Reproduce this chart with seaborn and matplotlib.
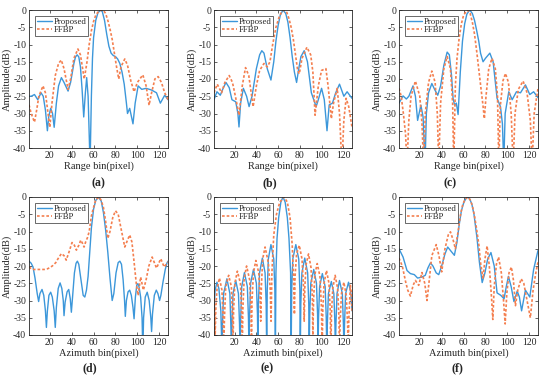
import numpy as np
import pandas as pd
import matplotlib
matplotlib.use('Agg')
import matplotlib.pyplot as plt
import seaborn as sb

# (a) range profile 1
a_x_prop = [1, 3, 6, 9, 12, 14, 16, 17.8, 19, 20.8, 22.5, 24, 26, 28, 30.6, 33, 36.7, 39, 42, 43.5, 45, 46.5, 48, 49.5, 51, 52.5, 53.7, 55, 56.8, 58, 59, 60, 62, 64, 66.5, 68, 70, 72, 74, 76, 78, 80, 82, 84, 86, 88, 90, 91, 93, 96, 98, 100.7, 104, 108, 113, 117.5, 121, 125, 128]
a_y_prop = [-25, -25, -24.5, -26, -24, -25, -29, -35, -31, -28.5, -30, -34, -27, -22, -19.6, -21, -23.5, -21, -15.5, -13.6, -13, -13.6, -16.5, -23, -31, -24, -19.6, -25, -45, -25, -14, -8, -3, -0.8, 0, -0.5, -3, -7, -10.5, -12.5, -13.2, -13.5, -14.2, -15.5, -18, -21.5, -27, -30, -28.5, -33, -27, -22, -23, -22.7, -23.2, -24, -27, -24.7, -26]
a_x_ffbp = [1, 3, 6, 8, 10, 13.8, 16, 18, 20, 22, 25, 28, 30.5, 33, 36.7, 39, 42, 45.7, 48, 51.5, 54, 56, 58, 60, 62, 65, 68.7, 71, 73, 75, 77, 79, 81, 83, 85, 88.5, 91, 94, 97, 100, 105, 108, 110.7, 113, 116, 119, 122, 125, 128]
a_y_ffbp = [-27.5, -30, -32.5, -29, -25, -22, -24, -29, -34, -27, -19, -15.5, -14.5, -17, -23, -20, -14, -11.3, -13, -20, -15, -10, -6, -3.3, -1.5, -0.2, 0, -1, -3, -5.5, -8.5, -12.5, -16.5, -20, -16.5, -14.2, -16, -20.5, -23.7, -21, -18.8, -22, -27.6, -24, -20, -19.3, -21, -24, -26]

# (b) range profile 2
b_x_prop = [1, 3.7, 6.8, 9, 12, 15, 17.5, 21, 23, 24, 25.5, 28, 31, 33.3, 36, 40, 43, 45, 47, 50, 53.4, 56, 58, 60, 62, 64.5, 67, 69, 71, 73, 75, 77, 79, 81, 84, 87, 90.6, 95, 97, 100, 102.5, 105, 107, 110, 113, 116.5, 120.5, 123.5, 128]
b_y_prop = [-26, -23.7, -24.7, -23, -21, -22.5, -26, -26.6, -30, -33.9, -27, -22.7, -25, -28, -25, -17, -13, -11.8, -12.5, -17, -20.3, -15, -9, -4.5, -1.5, 0, -1, -3.5, -8, -13.5, -18, -21, -17, -13.5, -11.8, -15, -24, -28, -26, -22.7, -26, -35, -27.5, -27, -24, -21.5, -25, -23.7, -25.6]
b_x_ffbp = [1, 4, 8, 11, 15, 18, 21, 24, 27, 30, 33, 37, 40, 43, 47, 50, 52.5, 55, 58, 61, 63, 65.6, 68, 70, 72, 74, 76, 78, 79.5, 82, 86.5, 90, 92, 94, 97, 100, 104, 106, 109, 111, 114.4, 116.5, 118.7, 120.5, 122.6, 125, 128]
b_y_ffbp = [-24, -21.5, -24, -21, -19, -21, -25.5, -30.5, -22, -16.7, -19, -28, -22, -17.5, -15.5, -16.5, -15, -10, -5, -2, -0.7, 0, -0.7, -2.5, -5, -8.5, -13, -17.5, -18.5, -14, -10.8, -13, -18, -30.5, -22, -17.5, -17, -22, -31.5, -27, -22.7, -30, -45, -32, -25.6, -28, -34]

# (c) range profile 3
c_x_prop = [1, 4.7, 7.7, 10, 13.8, 16, 18, 21, 23, 24.8, 26, 28, 31, 33.5, 36.4, 39, 42, 45, 47, 49, 50.4, 51.8, 53.4, 55, 57, 59, 61, 63, 65.6, 68, 70, 72, 73.9, 75.5, 77.8, 80, 84, 87, 90.6, 93.7, 95.5, 96.7, 98, 101.3, 104.4, 108.3, 112, 116.5, 120.5, 124, 128]
c_y_prop = [-27, -24.9, -25.8, -25, -22, -25, -32, -27.6, -31, -45, -30, -24, -21.3, -23, -24.7, -22, -16, -12.2, -13, -19, -25.6, -27.6, -27, -30.3, -18, -9, -4, -1.2, 0, -1, -3, -6, -9.1, -12.5, -15, -14, -12.5, -15, -25.6, -28, -33, -45, -30, -23.7, -26, -23.7, -24, -21.7, -24.5, -23.7, -25.4]
c_x_ffbp = [1, 3, 5, 7, 8.3, 10, 12, 16, 20, 22, 23.5, 25, 28, 31, 34, 36, 37.3, 39, 42, 45, 48, 50, 51, 52.5, 54, 56, 58, 60, 63.4, 66, 68, 70, 72, 74, 76, 77.5, 79, 80.5, 83, 86, 89, 91, 92.2, 93.5, 96, 98.3, 101, 103.5, 105.3, 107, 110, 114.4, 118, 121, 122.6, 124.5, 128]
c_y_ffbp = [-22.7, -25, -30, -36, -45, -32, -25, -20.6, -25, -33, -45, -30, -21, -17.7, -21, -30, -45, -27, -17, -13.5, -17, -27, -45, -22, -14, -8, -4, -1.5, 0, -1, -3.5, -7, -12, -17.5, -23, -27, -31.5, -25, -17, -14, -17, -25, -45, -28, -20.5, -18.4, -21, -30, -45, -30, -23, -20.6, -24, -32, -45, -30, -22.7]

# (d) azimuth profile 1
d_x_prop = [1, 3, 4.7, 6.5, 8.5, 9.8, 11, 12.9, 14.5, 16, 16.9, 17.8, 19.2, 20.8, 22.3, 24, 25, 26, 27.7, 29.4, 31, 32.3, 33, 34, 35.8, 37.3, 38.7, 39.7, 40.8, 42.5, 44, 45.2, 46.5, 48.5, 50.5, 52, 53.5, 55, 56.5, 58, 60, 62, 64.5, 67, 69, 71, 73, 75, 77, 78.5, 80.5, 82.5, 84, 85.5, 87, 88.3, 89, 90, 91.5, 93, 94.5, 96, 97, 98.2, 99.5, 100.5, 101.5, 103, 104.3, 105, 105.7, 107.2, 109, 110.8, 112.3, 113, 113.8, 115.5, 117.3, 118.8, 120.3, 121.5, 123.5, 125.5, 127, 128]
d_y_prop = [-18.6, -19.2, -20.3, -23.5, -28, -30.3, -28, -26.8, -28.5, -33, -37.8, -33, -28.5, -27.6, -29, -33, -37.8, -32, -26.5, -24.9, -26.5, -30, -34.4, -30.5, -27.5, -26.8, -29.5, -33.4, -29, -22, -19.2, -18.6, -19.5, -24, -28.5, -29, -27, -23, -16, -9, -3.5, -1, 0, -1.2, -4.5, -9.5, -16, -23.5, -30, -28, -22, -19, -18.6, -19.5, -24, -30, -34.6, -30, -27.5, -27, -28.5, -32, -35.3, -29, -25.5, -25.1, -26, -29, -35, -45, -35, -29, -27.6, -30, -35, -39, -34, -28.5, -27, -28, -30, -28.5, -24.5, -21, -19.2, -18.6]
d_x_ffbp = [1, 4, 8, 12, 15, 18, 21, 23, 25.5, 27.5, 30.6, 33, 35, 37.5, 40.3, 42.5, 44.3, 46.5, 48.3, 50, 51.3, 52.8, 54.4, 56, 58, 60, 62, 65, 67, 69, 71, 73, 75, 77.5, 80, 82.5, 85, 88.5, 91, 93, 95, 97, 99, 100.7, 103, 105.5, 108, 110.5, 113.5, 117.5, 121.4, 124.5, 128]
d_y_ffbp = [-20.3, -21, -21, -21, -21, -20.8, -20.3, -19.8, -19, -17.9, -16.4, -17, -18.3, -16, -13.2, -14, -15.4, -14, -12.5, -13.5, -14.5, -13, -11.8, -10, -5.5, -3, -0.8, 0, -1, -3, -7, -12, -10, -6, -4, -5, -9, -14.5, -12.5, -11, -13, -18.8, -25, -28.5, -23.2, -27, -24, -20, -17.4, -20.6, -17.9, -20.3, -18.8]

# (e) azimuth profile 2
e_x_prop = [1, 2, 3.7, 5.5, 7.3, 8.3, 8.8, 9.8, 12.9, 15.6, 16.5, 17, 17.5, 18.5, 21, 23.5, 24.5, 25, 25.5, 26.5, 29, 31.7, 32.7, 33.2, 33.7, 34.7, 37.3, 40, 41, 41.4, 41.9, 42.9, 45.5, 48, 49, 49.5, 50, 51, 53.4, 56, 57, 57.5, 58, 59, 60.5, 62.5, 64.5, 66.5, 68.5, 70, 71.5, 72, 72.5, 73.5, 76.3, 79, 80, 80.4, 80.9, 81.9, 84.5, 87.2, 88.2, 88.6, 89.1, 90.1, 92.8, 95.3, 96.3, 96.7, 97.2, 98.2, 100.7, 103.3, 104.3, 104.8, 105.3, 106.3, 109, 111.3, 112.3, 112.7, 113.2, 114.2, 116.5, 119.1, 120.1, 120.6, 121.1, 122.1, 124.8, 127, 128]
e_y_prop = [-33, -27, -24.7, -26.5, -33, -45, -37, -28, -23.7, -28, -37, -45, -37, -28, -24.2, -28, -37, -45, -36, -26, -21.9, -26, -35, -45, -35, -25, -21, -25, -34, -45, -31, -22, -17.7, -22, -31, -45, -27, -18, -13.8, -18, -27, -45, -22, -12, -6, -1.5, 0, -1.5, -6, -12, -22, -45, -27, -18, -13.8, -18, -27, -45, -31, -22, -17.7, -22, -31, -45, -34, -25, -21, -25, -34, -45, -35, -26, -22.2, -26, -35, -45, -37, -28, -24.5, -28, -37, -45, -37, -28, -24.2, -28, -37, -45, -37, -28, -24.7, -28, -33]
e_x_ffbp = [1, 1.6, 2.1, 2.7, 3.8, 6, 8.3, 9.4, 10, 10.6, 11.8, 14.5, 17, 18, 18.5, 19, 20.2, 22.5, 25.3, 26.4, 27, 27.6, 28.8, 31, 33.8, 35, 35.5, 36, 37.3, 39.5, 42.2, 43.4, 44, 44.6, 45.8, 48, 51, 52.8, 53.5, 54.3, 56, 58.5, 61.5, 65.5, 68.5, 71, 73, 74.3, 75, 75.6, 77, 79.5, 82, 83.4, 84, 84.6, 85.8, 88, 90.3, 91.5, 92, 92.6, 93.8, 96, 98.5, 99.9, 100.5, 101.1, 102.3, 104.5, 106.8, 108, 108.5, 109.1, 110.3, 112.5, 114.8, 116, 116.5, 117.1, 118.3, 120.5, 122.7, 124, 124.5, 125, 126.5, 127.5, 128]
e_y_ffbp = [-27, -33, -40, -32, -26.5, -23.5, -27, -35, -45, -35, -26, -22.7, -26, -34, -45, -33, -25, -21.5, -25, -33, -45, -32, -23.5, -20, -24, -32, -42, -30, -22, -18.4, -22, -29, -36, -26, -18, -14.5, -19, -27, -36, -22, -11, -5, -1.5, 0, -1.5, -6, -14, -24, -34, -23, -16.5, -14, -18, -26, -36, -26, -19.5, -16.5, -20.5, -29, -40, -30, -22.5, -19.3, -23, -32, -45, -33, -25, -21.3, -25, -33, -45, -34, -26.5, -22.7, -26.5, -35, -45, -36, -28, -24.7, -28.5, -37, -45, -36, -25.6, -28, -33]

# (f) azimuth profile 3
f_x_prop = [1, 4.7, 8.3, 11.4, 15, 18, 22, 25, 27.5, 29.7, 32, 35, 37.3, 40, 43, 45.5, 48, 51.6, 54, 56, 58, 60, 62, 63.8, 65.5, 67.5, 69.5, 72.3, 74.5, 77, 79.5, 82, 85, 88, 90.6, 94, 97, 99, 101, 103.5, 106, 109, 111, 113, 116.5, 120.5, 124, 128]
f_y_prop = [-15, -17.4, -21.3, -22.2, -22.5, -23.5, -23.2, -22.7, -20.5, -19.1, -20, -22, -22.5, -20, -16.5, -14.5, -15.5, -16.9, -13, -8, -4, -1.8, -0.5, 0, -0.5, -2, -5, -12, -19, -24.8, -22, -18, -16.1, -20, -27.8, -28.5, -29.5, -26, -23, -26, -30.3, -27.3, -29, -33, -27, -29, -21, -15.5]
f_x_ffbp = [1, 4, 7, 9, 11.4, 14, 16, 19, 22, 24.5, 26.6, 28, 31, 35, 37.5, 40, 43, 46, 48, 50.5, 52.5, 55, 57, 59, 61, 63.8, 66, 68, 70, 72, 74, 75.5, 77.8, 79.5, 81.5, 83.5, 85.5, 86.7, 88, 90, 92, 94.5, 96.5, 98, 99.5, 101.5, 103.7, 105.5, 107.4, 109.5, 112.6, 115, 118, 121, 123.5, 126, 128]
f_y_ffbp = [-17.7, -20, -24.5, -27, -28.7, -25.5, -24.2, -25.6, -21.9, -25, -30, -26, -17, -13.8, -17, -21.7, -15, -11, -10.1, -12.5, -15, -10, -5.5, -2.5, -0.8, 0, -0.8, -2.5, -5.5, -9.5, -14, -19, -23.7, -18, -14.2, -20, -29, -35.5, -26, -19.5, -17.4, -22, -30, -36.8, -28, -22, -20.3, -24, -31.5, -27, -23.7, -25, -30, -35, -27, -22, -18.8]

panels = [
    ('(a)', 'Range bin(pixel)', a_x_prop, a_y_prop, a_x_ffbp, a_y_ffbp),
    ('(b)', 'Range bin(pixel)', b_x_prop, b_y_prop, b_x_ffbp, b_y_ffbp),
    ('(c)', 'Range bin(pixel)', c_x_prop, c_y_prop, c_x_ffbp, c_y_ffbp),
    ('(d)', 'Azimuth bin(pixel)', d_x_prop, d_y_prop, d_x_ffbp, d_y_ffbp),
    ('(e)', 'Azimuth bin(pixel)', e_x_prop, e_y_prop, e_x_ffbp, e_y_ffbp),
    ('(f)', 'Azimuth bin(pixel)', f_x_prop, f_y_prop, f_x_ffbp, f_y_ffbp),
]

xticks = [20, 40, 60, 80, 100, 120]
yticks = [0, -5, -10, -15, -20, -25, -30, -35, -40]

sb.set_style('ticks')
plt.rcParams['font.family'] = ['Liberation Serif', 'DejaVu Serif']
plt.rcParams['axes.unicode_minus'] = False

blue = '#3C97DA'
orange = '#F47F4F'

fig = plt.figure(figsize=(5.5, 3.77), dpi=100)

# axes boxes in pixels: left, top, right, bottom
boxes = [(29, 10, 168, 148), (214, 10, 352, 148), (399, 10, 538, 148),
         (29, 197, 168, 335), (214, 197, 352, 335), (399, 197, 538, 335)]
label_pos = [(98, 183), (270, 183), (450, 183), (90, 368), (267, 368), (457, 368)]

for i, (tag, xlab, xp, yp, xf, yf) in enumerate(panels):
    l, t, r, b = boxes[i]
    ax = fig.add_axes([l / 550, 1 - b / 377, (r - l) / 550, (b - t) / 377])
    dp = pd.DataFrame({'bin': xp, 'amp': yp})
    df = pd.DataFrame({'bin': xf, 'amp': yf})
    sb.lineplot(data=dp, x='bin', y='amp', ax=ax, color=blue, linewidth=1.0,
                label='Proposed', sort=False, estimator=None)
    sb.lineplot(data=df, x='bin', y='amp', ax=ax, color=orange, linewidth=1.2,
                linestyle=(0, (1.6, 1.2)), label='FFBP', sort=False, estimator=None)
    ax.set_xlim(1, 128)
    ax.set_ylim(-40, 0)
    ax.set_xticks(xticks)
    ax.set_yticks(yticks)
    ax.tick_params(direction='in', top=True, right=True, length=2.5, width=0.5,
                   labelsize=7, pad=2, colors='#262626')
    for s in ax.spines.values():
        s.set_linewidth(0.6)
        s.set_color('#262626')
    ax.set_xlabel(xlab, fontsize=7.5, labelpad=1.5)
    ax.set_ylabel('Amplitude(dB)', fontsize=7.5, labelpad=1)
    leg = ax.legend(loc='upper left', fontsize=6.3, frameon=True, fancybox=False,
                    edgecolor='#262626', handlelength=1.7, borderpad=0.2,
                    labelspacing=0.0, borderaxespad=0.7, handletextpad=0.2)
    leg.get_frame().set_linewidth(0.6)
    fig.text(label_pos[i][0] / 550, 1 - label_pos[i][1] / 377, tag,
             ha='center', va='center', fontsize=8.5, fontweight='bold')

fig.savefig('out.png', dpi=100)
print('Finished!')
